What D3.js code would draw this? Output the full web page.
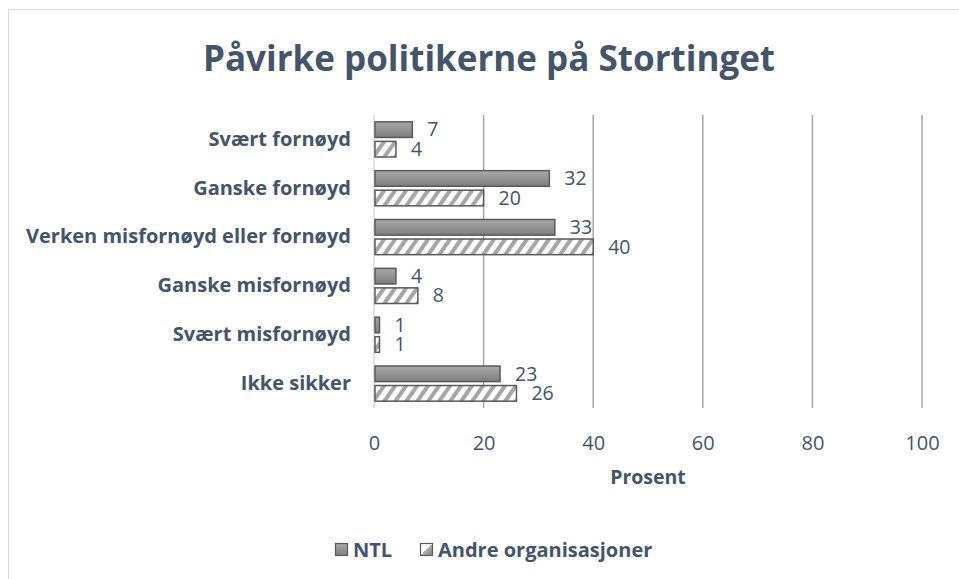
<!DOCTYPE html>
<html><head><meta charset="utf-8">
<script src="https://cdn.jsdelivr.net/npm/d3@7"></script>
<style>body{margin:0;background:#fff;} svg{display:block;}</style>
</head><body>
<script>
const categories = ["Svært fornøyd","Ganske fornøyd","Verken misfornøyd eller fornøyd","Ganske misfornøyd","Svært misfornøyd","Ikke sikker"];
const seriesNames = ["NTL","Andre organisasjoner"];
const ntlValues = [7,32,33,4,1,23];
const andreValues = [4,20,40,8,1,26];
const xTicks = [0,20,40,60,80,100];
const title = "Påvirke politikerne på Stortinget";
const xTitle = "Prosent";

const W=959,H=579;
const textColor="#44546A";
const font="'Open Sans', sans-serif";
const svg=d3.select("body").append("svg").attr("width",W).attr("height",H);

const defs=svg.append("defs");
const grad=defs.append("linearGradient").attr("id","gNTL").attr("x1",0).attr("y1",0).attr("x2",0).attr("y2",1);
grad.append("stop").attr("offset","0%").attr("stop-color","#a9a9a9");
grad.append("stop").attr("offset","100%").attr("stop-color","#7d7d7d");
const pat=defs.append("pattern").attr("id","hatch").attr("patternUnits","userSpaceOnUse")
  .attr("width",9).attr("height",9).attr("patternTransform","rotate(35)");
pat.append("rect").attr("width",9).attr("height",9).attr("fill","#fff");
pat.append("rect").attr("x",0).attr("width",4).attr("height",9).attr("fill","#a6a6a6");
const lg=defs.append("linearGradient").attr("id","gLeg").attr("x1",0).attr("y1",0).attr("x2",1).attr("y2",1);
lg.append("stop").attr("offset","0%").attr("stop-color","#fff");
lg.append("stop").attr("offset","50%").attr("stop-color","#fff");
lg.append("stop").attr("offset","50%").attr("stop-color","#b0b0b0");
lg.append("stop").attr("offset","100%").attr("stop-color","#7d7d7d");

// frame
svg.append("rect").attr("x",8.5).attr("y",9.5).attr("width",W+10).attr("height",H+10)
  .attr("fill","none").attr("stroke","#d9d9d9").attr("stroke-width",1);

// title
svg.append("text").attr("x",489).attr("y",71).attr("text-anchor","middle")
  .attr("font-family",font).attr("font-weight","bold").attr("font-size",35)
  .attr("fill",textColor).text(title);

const x=d3.scaleLinear().domain([0,100]).range([374,922]);
const y0=d3.scaleBand().domain(categories).range([115,408]).paddingInner(0.28).paddingOuter(0.14);
const y1=d3.scaleBand().domain(seriesNames).range([0,y0.bandwidth()]).paddingInner(0.2);

// gridlines
svg.append("g").selectAll("line").data(xTicks).join("line")
  .attr("x1",d=>x(d)).attr("x2",d=>x(d)).attr("y1",115).attr("y2",408)
  .attr("stroke",d=>d===0?"#d9d9d9":"#a6a6a6").attr("stroke-width",1.5);

// x axis labels
const xAxis=d3.axisBottom(x).tickValues(xTicks).tickSize(0).tickPadding(0);
const xg=svg.append("g").attr("transform","translate(0,443)").call(xAxis);
xg.select(".domain").remove();
xg.selectAll("text").attr("font-family",font).attr("font-size",20).attr("fill",textColor).attr("dy","0.35em");

// y axis labels
const yAxis=d3.axisLeft(y0).tickSize(0).tickPadding(0);
const yg=svg.append("g").attr("transform","translate(351,0)").call(yAxis);
yg.select(".domain").remove();
yg.selectAll("text").attr("font-family",font).attr("font-size",20).attr("font-weight","bold").attr("fill",textColor);

const rows=categories.map((c,i)=>({cat:c,vals:[ntlValues[i],andreValues[i]]}));
const g=svg.append("g").selectAll("g").data(rows).join("g")
  .attr("transform",d=>`translate(0,${y0(d.cat)})`);
g.selectAll("rect").data(d=>d.vals.map((v,j)=>({v,s:seriesNames[j]}))).join("rect")
  .attr("x",x(0)+1).attr("y",d=>y1(d.s)).attr("height",y1.bandwidth())
  .attr("width",d=>x(d.v)-x(0)-1)
  .attr("fill",d=>d.s==="NTL"?"url(#gNTL)":"url(#hatch)")
  .attr("stroke","#595959").attr("stroke-width",1.5);
g.selectAll("text").data(d=>d.vals.map((v,j)=>({v,s:seriesNames[j]}))).join("text")
  .attr("x",d=>x(d.v)+15).attr("y",d=>y1(d.s)+y1.bandwidth()/2).attr("dy","0.35em")
  .attr("font-family",font).attr("font-size",19.5).attr("fill",textColor).text(d=>d.v);

// x title
svg.append("text").attr("x",648).attr("y",477).attr("dy","0.35em").attr("text-anchor","middle")
  .attr("font-family",font).attr("font-weight","bold").attr("font-size",19.5)
  .attr("fill",textColor).text(xTitle);

// legend
const legX=[335,420];
const leg=svg.append("g").selectAll("g").data(seriesNames).join("g")
  .attr("transform",(d,i)=>`translate(${legX[i]},543)`);
leg.append("rect").attr("x",0.5).attr("y",0.5).attr("width",12).attr("height",12)
  .attr("fill",(d,i)=>i===0?"url(#gNTL)":"url(#gLeg)").attr("stroke","#595959").attr("stroke-width",1.2);
leg.append("text").attr("x",18).attr("y",7).attr("dy","0.35em")
  .attr("font-family",font).attr("font-weight","bold").attr("font-size",20)
  .attr("fill",textColor).text(d=>d);
</script>
</body></html>
